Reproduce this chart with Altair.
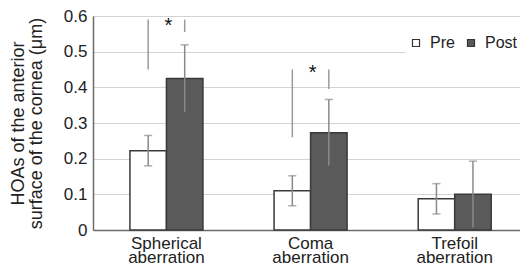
import altair as alt
import pandas as pd

categories = ["Spherical aberration", "Coma aberration", "Trefoil aberration"]
series = ["Pre", "Post"]
pre_mean = [0.2225, 0.110, 0.0875]
pre_sd = [0.0425, 0.042, 0.0425]
post_mean = [0.425, 0.273, 0.100]
post_sd = [0.094, 0.093, 0.093]

sig_category = ["Spherical aberration", "Spherical aberration", "Coma aberration", "Coma aberration"]
sig_series = ["Pre", "Post", "Pre", "Post"]
sig_top = [0.59, 0.59, 0.45, 0.45]
sig_bottom = [0.45, 0.555, 0.26, 0.395]

star_category = ["Spherical aberration", "Coma aberration"]
star_y = [0.556, 0.423]

y_ticks = [0, 0.1, 0.2, 0.3, 0.4, 0.5, 0.6]
y_title = ["HOAs of the anterior", "surface of the cornea (\u03bcm)"]

rows = []
for i, c in enumerate(categories):
    rows.append({"category": c, "series": "Pre", "mean": pre_mean[i],
                 "lo": pre_mean[i] - pre_sd[i], "hi": pre_mean[i] + pre_sd[i]})
    rows.append({"category": c, "series": "Post", "mean": post_mean[i],
                 "lo": post_mean[i] - post_sd[i], "hi": post_mean[i] + post_sd[i]})
df = pd.DataFrame(rows)
sig_df = pd.DataFrame({"category": sig_category, "series": sig_series,
                       "top": sig_top, "bottom": sig_bottom})
star_df = pd.DataFrame({"category": star_category, "y": star_y})

FONT = "Liberation Sans"
AX = "#6b6b6b"

x_scale = alt.Scale(paddingInner=0.4934, paddingOuter=0.228, align=0.562)
x_axis = alt.Axis(title=None, labelExpr="split(datum.label, ' ')",
                  labelAngle=0, ticks=False, grid=False,
                  domainColor=AX, domainWidth=1.5,
                  labelFontSize=17, labelLineHeight=14,
                  labelPadding=5, labelColor="#222")
y_scale = alt.Scale(domain=[0, 0.6], nice=False, zero=True)
y_axis = alt.Axis(values=y_ticks, format=".1~f", title=y_title,
                  titleFontSize=18, titleFontWeight="normal",
                  titleColor="#222", titleX=-66, titleLineHeight=18,
                  ticks=False, labelPadding=6, labelFontSize=17,
                  labelOverlap=False,
                  labelColor="#222", gridColor="#d4d4d4",
                  domainColor=AX, domainWidth=1.5)

x_enc = alt.X("category:N", sort=categories, scale=x_scale, axis=x_axis)
xo_enc = alt.XOffset("series:N", sort=series,
                     scale=alt.Scale(domain=series, paddingInner=0, paddingOuter=0))


def yq(field):
    return alt.Y(field, scale=y_scale, axis=y_axis)


bars = alt.Chart(df).mark_bar(stroke="#3a3a3a", strokeWidth=1.5).encode(
    x=x_enc,
    xOffset=xo_enc,
    y=yq("mean:Q"),
    color=alt.Color("series:N", sort=series,
                    scale=alt.Scale(domain=series, range=["#ffffff", "#5a5a5a"]),
                    legend=alt.Legend(orient="none", legendX=313, legendY=17,
                                      direction="horizontal", title=None,
                                      fillColor="white", padding=2,
                                      labelFontSize=16, labelColor="#222",
                                      symbolType="square", symbolSize=49,
                                      labelOffset=6, columnPadding=8,
                                      symbolStrokeColor="#333",
                                      symbolStrokeWidth=1.2)),
)

err = alt.Chart(df).mark_rule(color="#8a8a8a", strokeWidth=1.5).encode(
    x=x_enc, xOffset=xo_enc, y=yq("lo:Q"), y2="hi:Q")

cap_top = alt.Chart(df).mark_tick(color="#8a8a8a", thickness=1.5, size=8,
                                  orient="horizontal").encode(
    x=x_enc, xOffset=xo_enc, y=yq("hi:Q"))

cap_low = alt.Chart(df[df["series"] == "Pre"]).mark_tick(
    color="#8a8a8a", thickness=1.5, size=8, orient="horizontal").encode(
    x=x_enc, xOffset=xo_enc, y=yq("lo:Q"))

sig = alt.Chart(sig_df).mark_rule(color="#9a9a9a", strokeWidth=1.5).encode(
    x=x_enc, xOffset=xo_enc, y=yq("top:Q"), y2="bottom:Q")

stars = alt.Chart(star_df).mark_text(text="*", fontSize=20, baseline="alphabetic",
                                     color="#111", dx=2).encode(
    x=x_enc, y=yq("y:Q"))

chart = alt.layer(bars, err, cap_top, cap_low, sig, stars).properties(
    width=427, height=214,
    autosize=alt.AutoSizeParams(type="none"),
    padding={"left": 85, "top": 8, "right": 0, "bottom": 36},
).configure_view(stroke=None).configure(font=FONT)

chart.save("out.html", embed_options={"renderer": "svg", "actions": False})
